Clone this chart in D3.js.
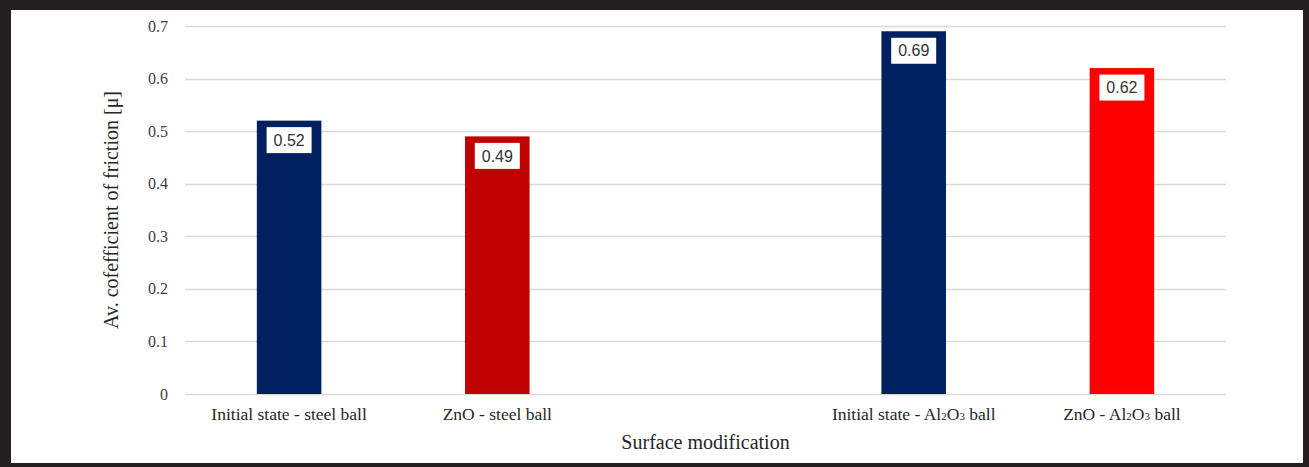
<!DOCTYPE html>
<html>
<head>
<meta charset="utf-8">
<script src="https://cdn.jsdelivr.net/npm/d3@7"></script>
<style>
  html, body { margin: 0; padding: 0; background: #fff; }
  svg { display: block; }
</style>
</head>
<body>
<svg id="chart" width="1309" height="467"></svg>
<script>
// Average coefficient of friction per surface modification / counter-body
const categories = ["Initial state - steel ball", "ZnO - steel ball", "gap", "Initial state - Al2O3 ball", "ZnO - Al2O3 ball"];
const values = [0.52, 0.49, null, 0.69, 0.62];
const barColors = ["#002060", "#C00000", null, "#002060", "#FF0000"];
const yTicks = [0, 0.1, 0.2, 0.3, 0.4, 0.5, 0.6, 0.7];

const W = 1309, H = 467;
const margin = { left: 185, right: 83, top: 26, bottom: 73 };

const svg = d3.select("#chart");

// dark frame around the figure
svg.append("rect").attr("x", 0).attr("y", 0).attr("width", W).attr("height", H).attr("fill", "#231f20");
svg.append("rect").attr("x", 11).attr("y", 10).attr("width", 1292).attr("height", 453).attr("fill", "#ffffff");

const x = d3.scaleBand()
  .domain(categories)
  .range([margin.left, W - margin.right])
  .paddingInner(0.69)
  .paddingOuter(0.345);

const y = d3.scaleLinear()
  .domain([0, 0.7])
  .range([H - margin.bottom, margin.top]);

const serif = "'Liberation Serif', 'Times New Roman', serif";
const sans = "'Liberation Sans', Arial, sans-serif";

// horizontal gridlines
svg.append("g")
  .selectAll("line")
  .data(yTicks)
  .join("line")
  .attr("x1", margin.left)
  .attr("x2", W - margin.right)
  .attr("y1", d => Math.round(y(d)) + 0.5)
  .attr("y2", d => Math.round(y(d)) + 0.5)
  .attr("stroke", "#d9d9d9")
  .attr("stroke-width", 1.3);

// y axis tick labels
const yAxis = d3.axisLeft(y).tickValues(yTicks).tickSize(0).tickPadding(17)
  .tickFormat(d => d === 0 ? "0" : d3.format(".1f")(d));
const gy = svg.append("g").attr("transform", `translate(${margin.left},0)`).call(yAxis);
gy.select(".domain").remove();
gy.selectAll("text").attr("font-family", serif).attr("font-size", 16).attr("fill", "#404040");

// bars
const barData = categories.map((c, i) => ({ c, v: values[i], color: barColors[i] })).filter(d => d.v !== null);

svg.append("g")
  .selectAll("rect")
  .data(barData)
  .join("rect")
  .attr("x", d => x(d.c))
  .attr("width", x.bandwidth())
  .attr("y", d => y(d.v))
  .attr("height", d => y(0) - y(d.v))
  .attr("fill", d => d.color);

// value labels in white boxes
const lab = svg.append("g").selectAll("g").data(barData).join("g")
  .attr("transform", d => `translate(${x(d.c) + x.bandwidth() / 2},${y(d.v) + 19.5})`);
lab.append("rect")
  .attr("x", -22.5).attr("y", -13).attr("width", 45).attr("height", 26)
  .attr("fill", "#ffffff");
lab.append("text")
  .attr("text-anchor", "middle")
  .attr("dy", "0.35em")
  .attr("font-family", sans)
  .attr("font-size", 16)
  .attr("fill", "#333333")
  .text(d => d.v.toFixed(2));

// category labels (Al2O3 drawn with subscripts)
const xl = svg.append("g").selectAll("text")
  .data(barData)
  .join("text")
  .attr("x", d => x(d.c) + x.bandwidth() / 2)
  .attr("y", 420)
  .attr("text-anchor", "middle")
  .attr("font-family", serif)
  .attr("font-size", 17.5)
  .attr("fill", "#262626");
xl.each(function(d) {
  const t = d3.select(this);
  const parts = d.c.split("Al2O3");
  if (parts.length === 1) { t.text(d.c); return; }
  t.append("tspan").text(parts[0] + "Al");
  t.append("tspan").attr("font-size", 11).text("2");
  t.append("tspan").text("O");
  t.append("tspan").attr("font-size", 11).text("3");
  t.append("tspan").text(parts[1]);
});

// axis titles
svg.append("text")
  .attr("x", (margin.left + W - margin.right) / 2)
  .attr("y", 449)
  .attr("text-anchor", "middle")
  .attr("font-family", serif)
  .attr("font-size", 20)
  .attr("fill", "#262626")
  .text("Surface modification");

svg.append("text")
  .attr("transform", `translate(118,${(margin.top + H - margin.bottom) / 2}) rotate(-90)`)
  .attr("text-anchor", "middle")
  .attr("font-family", serif)
  .attr("font-size", 20)
  .attr("fill", "#262626")
  .text("Av. cofefficient of friction [\u03bc]");
</script>
</body>
</html>
